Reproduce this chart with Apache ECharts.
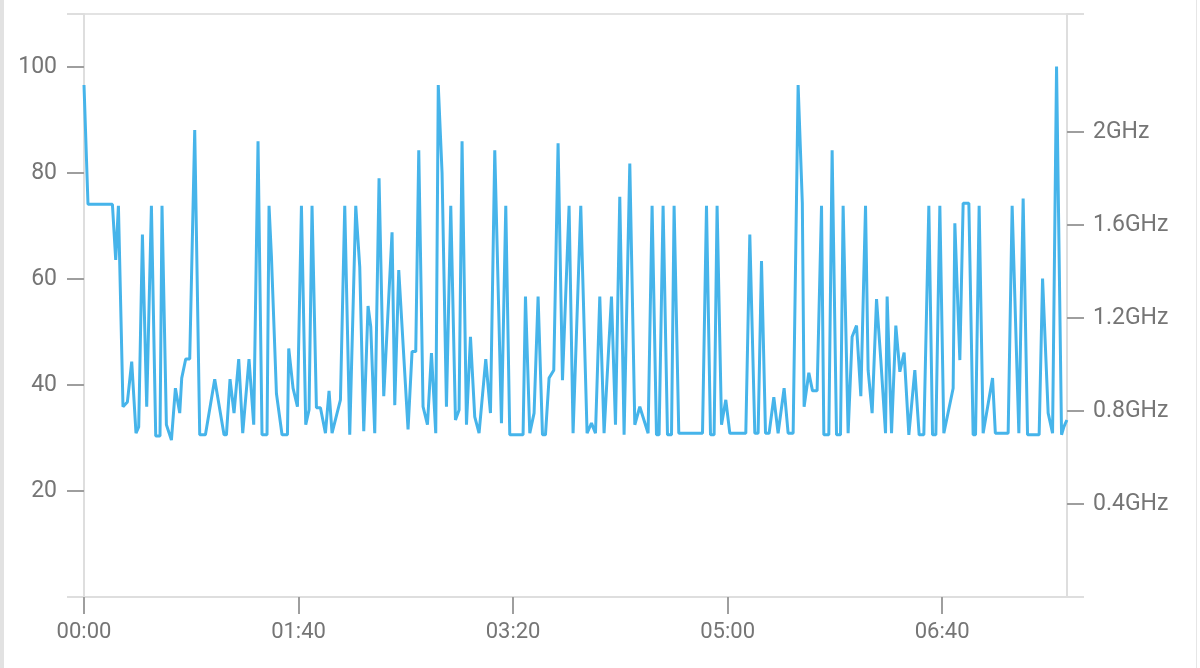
<!DOCTYPE html>
<html>
<head>
<meta charset="utf-8">
<script src="https://cdn.jsdelivr.net/npm/echarts@6/dist/echarts.min.js"></script>
<style>
html,body{margin:0;padding:0;background:#fff;}
#c{position:absolute;left:0;top:0;width:1200px;height:668px;}
.bl{position:absolute;left:0;top:0;width:4px;height:668px;background:#e2e2e2;}
.br{position:absolute;left:1196px;top:0;width:1px;height:668px;background:#e6e6e6;}
</style>
</head>
<body>
<div id="c"></div>
<div class="bl"></div>
<div class="br"></div>
<script>
// elapsed minutes since 00:00
const minutes = [0,1.86,13.24,14.78,16.04,18.18,20.23,22.24,24.24,25.50,27.23,29.23,31.42,33.43,35.43,36.36,38.41,40.75,42.61,44.62,45.55,47.41,49.28,51.61,53.94,56.60,60.93,65.27,66.39,68.07,69.93,72.12,73.99,76.92,79.11,81.12,82.98,85.31,86.25,87.37,89.70,92.31,94.83,95.43,97.44,99.49,101.35,103.36,104.90,106.29,108.34,110.21,112.54,114.22,115.62,119.53,121.54,123.87,126.67,128.53,130.40,132.40,133.66,135.52,137.53,139.72,143.59,144.85,146.71,151.05,152.91,154.64,156.04,158.04,160.09,161.96,163.96,165.13,166.90,168.95,170.96,173.15,174.83,176.22,178.28,180.14,182.14,184.15,187.27,189.46,191.47,194.59,196.60,198.46,204.66,205.78,207.79,209.79,211.66,213.71,215.10,216.78,218.97,220.98,223.03,226.11,227.97,231.56,234.50,236.55,238.41,240.42,242.42,245.87,247.74,249.74,251.75,254.41,256.74,259.07,262.94,264.80,266.85,268.07,269.93,271.98,273.85,275.06,277.25,288.30,290.16,292.03,293.71,295.10,297.16,299.16,301.03,308.48,310.35,312.68,314.22,315.80,317.67,319.35,321.54,323.54,326.34,328.21,330.54,332.87,334.83,335.66,337.86,339.58,341.72,343.78,344.85,347.18,348.72,350.77,352.63,353.85,356.18,358.04,360.09,362.10,364.29,365.50,367.37,369.42,371.42,373.61,374.36,376.41,378.41,380.28,382.28,384.48,387.27,389.28,391.47,393.80,395.52,397.06,398.93,400.79,405.13,405.92,408.25,409.79,412.45,414.45,415.57,417.25,419.11,423.50,424.80,430.77,432.63,435.76,437.76,439.81,445.22,446.81,449.42,451.47,453.33,455.66,456.74,458.14];
const values = [96.6,74.1,74.1,63.6,73.8,35.9,36.8,44.4,30.9,32.1,68.4,35.9,73.8,30.4,30.4,73.8,32.5,29.6,39.4,34.7,41.3,44.9,44.9,88.1,30.6,30.6,41.1,30.6,30.6,41.1,34.7,44.9,30.9,44.9,32.5,86.0,30.6,30.6,73.8,64.2,38.4,30.6,30.6,46.9,39.4,35.9,73.8,32.5,35.3,73.8,35.7,35.7,30.9,38.9,30.9,37.2,73.8,30.6,73.8,62.3,31.3,54.9,51.0,30.9,79.0,37.9,68.8,36.2,61.7,31.6,46.3,46.3,84.3,35.9,32.5,46.0,30.9,96.6,80.0,35.9,73.8,33.4,35.3,86.0,32.5,49.1,34.0,30.9,44.9,34.7,84.3,32.8,73.8,30.6,30.6,56.7,30.9,34.7,56.7,30.6,30.6,41.3,42.8,85.6,40.9,73.8,30.9,73.8,30.9,32.8,30.9,56.7,30.9,56.7,32.5,75.5,30.6,81.8,32.5,35.9,30.9,73.8,30.6,30.6,73.8,30.6,30.6,73.8,30.9,30.9,73.8,30.6,30.6,73.8,32.5,37.2,30.9,30.9,68.4,30.9,30.9,63.4,30.9,30.9,37.7,30.9,39.4,30.9,30.9,96.6,74.3,35.9,42.3,38.9,38.9,73.8,30.6,30.6,84.3,30.6,30.6,73.8,30.9,49.1,51.2,37.9,73.8,42.8,34.7,56.2,44.7,30.9,56.7,30.9,51.2,42.5,46.1,30.6,42.8,30.6,30.6,73.8,30.6,30.6,73.8,30.9,39.4,70.5,44.7,74.3,74.3,30.6,30.6,73.8,30.9,41.3,30.9,30.9,73.8,30.9,75.2,30.6,30.6,60.1,34.7,30.9,100.1,30.6,32.1,33.4];
const leftTicks = [20,40,60,80,100];
const rightTicks = [0.4,0.8,1.2,1.6,2.0];
const xTicks = [0,100,200,300,400];
const xMax = 458.2;
const leftMax = 110;
const rightMax = 2.5075;

const data = minutes.map((m,i)=>[m, values[i]]);
const labelColor = '#757575';
const tickColor = '#9e9e9e';
const lightColor = '#dedede';
const fmtTime = v => {
  const h = Math.floor(v/60), m = Math.round(v%60);
  return String(h).padStart(2,'0') + ':' + String(m).padStart(2,'0');
};
const font = {color:labelColor, fontSize:22, fontFamily:'Roboto'};
const fontY = {color:labelColor, fontSize:23, fontFamily:'Roboto'};

const chart = echarts.init(document.getElementById('c'), null, {renderer:'canvas'});
chart.setOption({
  animation:false,
  backgroundColor:'#fff',
  grid:{left:84, right:133, top:14, bottom:71, containLabel:false},
  xAxis:{
    type:'value', min:0, max:xMax, interval:100,
    axisLine:{show:true, lineStyle:{color:lightColor, width:2}},
    axisTick:{show:true, customValues:xTicks, length:17, lineStyle:{color:tickColor, width:2}},
    axisLabel:Object.assign({customValues:xTicks, formatter:fmtTime, margin:24}, font),
    splitLine:{show:false}
  },
  yAxis:[
    {type:'value', position:'left', min:0, max:leftMax, interval:10,
     axisLine:{show:true, lineStyle:{color:lightColor, width:2}},
     axisTick:{show:true, customValues:[0,leftMax], length:17, lineStyle:{color:lightColor, width:2}},
     axisLabel:{show:false},
     splitLine:{show:true, lineStyle:{color:'#e3e3e3', width:2}}},
    {type:'value', position:'left', min:0, max:leftMax,
     axisLine:{show:false},
     axisTick:{show:true, customValues:leftTicks, length:17, lineStyle:{color:tickColor, width:2}},
     axisLabel:Object.assign({customValues:leftTicks, margin:27}, fontY),
     splitLine:{show:false}},
    {type:'value', position:'right', min:0, max:rightMax,
     axisLine:{show:true, lineStyle:{color:lightColor, width:2}},
     axisTick:{show:true, customValues:rightTicks, length:17, lineStyle:{color:tickColor, width:2}},
     axisLabel:Object.assign({customValues:rightTicks, margin:26,
       formatter:v=>String(parseFloat(v.toFixed(1)))+'GHz'}, fontY),
     splitLine:{show:false}},
    {type:'value', position:'right', min:0, max:rightMax,
     axisLine:{show:false},
     axisTick:{show:true, customValues:[0,rightMax], length:17, lineStyle:{color:lightColor, width:2}},
     axisLabel:{show:false},
     splitLine:{show:false}}
  ],
  series:[{
    type:'line', data:data, xAxisIndex:0, yAxisIndex:0,
    showSymbol:false, symbol:'none',
    lineStyle:{color:'#46b4ea', width:3},
    z:5
  }]
});
</script>
</body>
</html>
